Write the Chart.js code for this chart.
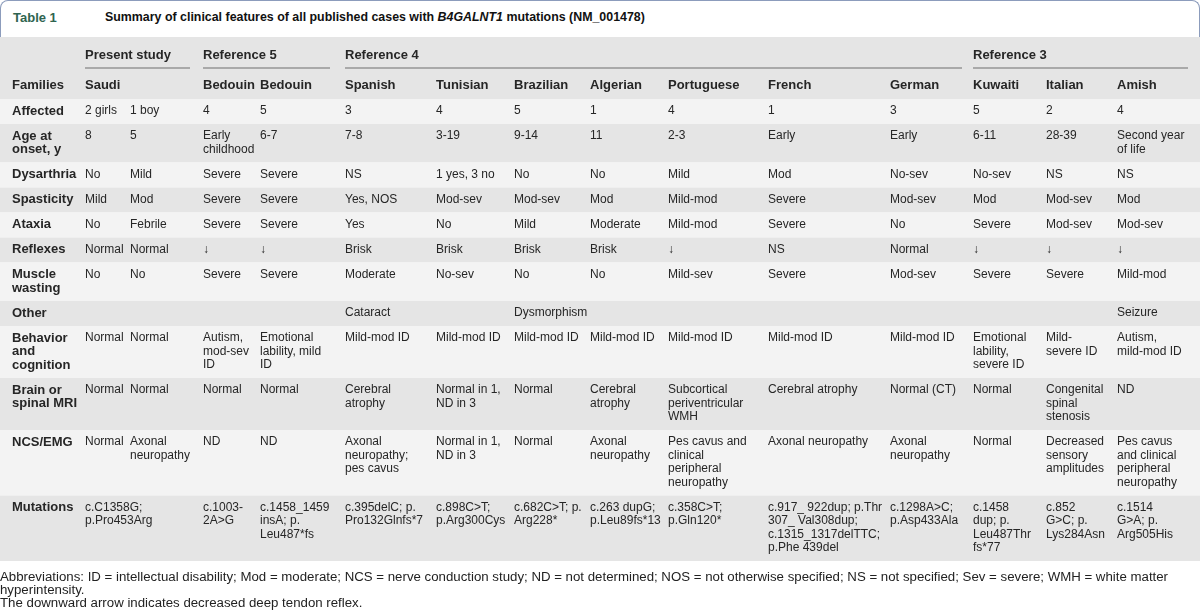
<!DOCTYPE html>
<html>
<head>
<meta charset="utf-8">
<script src="https://cdn.jsdelivr.net/npm/chart.js@4.4.1/dist/chart.umd.min.js"></script>
<style>
  html, body { margin: 0; padding: 0; background: #ffffff; }
  body { width: 1200px; height: 610px; overflow: hidden; font-family: "Liberation Sans", Arial, sans-serif; }
  #wrap { position: relative; width: 1200px; height: 610px; }
  #table { position: absolute; left: 0; top: 0; }
  #tab { position: absolute; left: 0; top: 0; width: 1200px; height: 37px; box-sizing: border-box;
         background: #ffffff; border: 1.5px solid #8c9cbc; border-bottom: none; border-radius: 8px 8px 0 0; }
  #tabno { position: absolute; left: 13px; top: 10px; font-size: 13px; font-weight: bold; color: #2f6450; }
  #title { position: absolute; left: 105px; top: 10px; font-size: 12.4px; font-weight: bold; color: #111; white-space: nowrap; }
  #notes { position: absolute; left: 0; top: 570px; font-size: 13.25px; line-height: 13px; color: #222; white-space: nowrap; }
</style>
</head>
<body>
<div id="wrap">
  <canvas id="table" width="1200" height="610"></canvas>
  <div id="tab"></div>
  <div id="tabno">Table 1</div>
  <div id="title">Summary of clinical features of all published cases with <i>B4GALNT1</i> mutations (NM_001478)</div>
  <div id="notes">Abbreviations: ID = intellectual disability; Mod = moderate; NCS = nerve conduction study; ND = not determined; NOS = not otherwise specified; NS = not specified; Sev = severe; WMH = white matter<br>hyperintensity.<br>The downward arrow indicates decreased deep tendon reflex.</div>
</div>
<script>
// ---------- DATA ----------
const groupLabels   = ['Present study', 'Reference 5', 'Reference 4', 'Reference 3'];
const groupFirstCol = [1, 3, 5, 12];
const groupLastCol  = [2, 4, 11, 14];

const families = ['Saudi', '', 'Bedouin', 'Bedouin', 'Spanish', 'Tunisian', 'Brazilian', 'Algerian',
                  'Portuguese', 'French', 'German', 'Kuwaiti', 'Italian', 'Amish'];

const rowLabels = ['Affected', 'Age at\nonset, y', 'Dysarthria', 'Spasticity', 'Ataxia', 'Reflexes',
                   'Muscle\nwasting', 'Other', 'Behavior\nand\ncognition', 'Brain or\nspinal MRI', 'NCS/EMG', 'Mutations'];

const affected   = ['2 girls', '1 boy', '4', '5', '3', '4', '5', '1', '4', '1', '3', '5', '2', '4'];
const ageOnset   = ['8', '5', 'Early\nchildhood', '6-7', '7-8', '3-19', '9-14', '11', '2-3', 'Early', 'Early',
                    '6-11', '28-39', 'Second year\nof life'];
const dysarthria = ['No', 'Mild', 'Severe', 'Severe', 'NS', '1 yes, 3 no', 'No', 'No', 'Mild', 'Mod',
                    'No-sev', 'No-sev', 'NS', 'NS'];
const spasticity = ['Mild', 'Mod', 'Severe', 'Severe', 'Yes, NOS', 'Mod-sev', 'Mod-sev', 'Mod', 'Mild-mod',
                    'Severe', 'Mod-sev', 'Mod', 'Mod-sev', 'Mod'];
const ataxia     = ['No', 'Febrile', 'Severe', 'Severe', 'Yes', 'No', 'Mild', 'Moderate', 'Mild-mod',
                    'Severe', 'No', 'Severe', 'Mod-sev', 'Mod-sev'];
const reflexes   = ['Normal', 'Normal', '\u2193', '\u2193', 'Brisk', 'Brisk', 'Brisk', 'Brisk', '\u2193', 'NS',
                    'Normal', '\u2193', '\u2193', '\u2193'];
const wasting    = ['No', 'No', 'Severe', 'Severe', 'Moderate', 'No-sev', 'No', 'No', 'Mild-sev', 'Severe',
                    'Mod-sev', 'Severe', 'Severe', 'Mild-mod'];
const other      = ['', '', '', '', 'Cataract', '', 'Dysmorphism', '', '', '', '', '', '', 'Seizure'];
const behavior   = ['Normal', 'Normal', 'Autism,\nmod-sev\nID', 'Emotional\nlability, mild\nID', 'Mild-mod ID',
                    'Mild-mod ID', 'Mild-mod ID', 'Mild-mod ID', 'Mild-mod ID', 'Mild-mod ID', 'Mild-mod ID',
                    'Emotional\nlability,\nsevere ID', 'Mild-\nsevere ID', 'Autism,\nmild-mod ID'];
const brainMri   = ['Normal', 'Normal', 'Normal', 'Normal', 'Cerebral\natrophy', 'Normal in 1,\nND in 3', 'Normal',
                    'Cerebral\natrophy', 'Subcortical\nperiventricular\nWMH', 'Cerebral atrophy', 'Normal (CT)',
                    'Normal', 'Congenital\nspinal\nstenosis', 'ND'];
const ncsEmg     = ['Normal', 'Axonal\nneuropathy', 'ND', 'ND', 'Axonal\nneuropathy;\npes cavus', 'Normal in 1,\nND in 3',
                    'Normal', 'Axonal\nneuropathy', 'Pes cavus and\nclinical\nperipheral\nneuropathy',
                    'Axonal neuropathy', 'Axonal\nneuropathy', 'Normal', 'Decreased\nsensory\namplitudes',
                    'Pes cavus\nand clinical\nperipheral\nneuropathy'];
const mutations  = ['c.C1358G;\np.Pro453Arg', '', 'c.1003-\n2A>G', 'c.1458_1459\ninsA; p.\nLeu487*fs',
                    'c.395delC; p.\nPro132Glnfs*7', 'c.898C>T;\np.Arg300Cys', 'c.682C>T; p.\nArg228*',
                    'c.263 dupG;\np.Leu89fs*13', 'c.358C>T;\np.Gln120*',
                    'c.917_ 922dup; p.Thr\n307_ Val308dup;\nc.1315_1317delTTC;\np.Phe 439del',
                    'c.1298A>C;\np.Asp433Ala', 'c.1458\ndup; p.\nLeu487Thr\nfs*77', 'c.852\nG>C; p.\nLys284Asn',
                    'c.1514\nG>A; p.\nArg505His'];

const rowValues = [affected, ageOnset, dysarthria, spasticity, ataxia, reflexes, wasting, other,
                   behavior, brainMri, ncsEmg, mutations];

// ---------- LAYOUT (table units = page pixels) ----------
const colX      = [12, 85, 130, 203, 260, 345, 436, 514, 590, 668, 768, 890, 973, 1046, 1117];
const groupEndX = [190, 330, 962, 1188];
const tableWidth = 1200;
const headTop = 36, headBottom = 99, groupY = 55, ruleY = 68, famY = 85;
const rowBase = 25, lineH = 13.5, firstLine = 12;
const lightBg = '#f3f3f3', darkBg = '#e5e5e5', ruleColor = '#a9a9a9', inkColor = '#262626';
const labelFont = 'bold 13px "Liberation Sans", Arial, sans-serif';
const cellFont  = '12px "Liberation Sans", Arial, sans-serif';

const tablePlugin = {
  id: 'tableCells',
  beforeDatasetsDraw(chart) {
    const { ctx, scales: { x, y } } = chart;
    const px = v => x.getPixelForValue(v);
    const py = v => y.getPixelForValue(v);
    const band = (top, bottom, color) => {
      ctx.fillStyle = color;
      ctx.fillRect(px(0), py(top), px(tableWidth) - px(0), py(bottom) - py(top));
    };
    const text = (str, col, top, font) => {
      ctx.font = font;
      ctx.fillStyle = inkColor;
      ctx.textBaseline = 'middle';
      ctx.textAlign = 'left';
      str.split('\n').forEach((ln, k) => ctx.fillText(ln, px(colX[col]), py(top + k * lineH)));
    };
    ctx.save();
    // header
    band(headTop, headBottom, darkBg);
    groupLabels.forEach((g, i) => {
      text(g, groupFirstCol[i], groupY, labelFont);
      ctx.strokeStyle = ruleColor;
      ctx.lineWidth = 2;
      ctx.beginPath();
      ctx.moveTo(px(colX[groupFirstCol[i]]), py(ruleY));
      ctx.lineTo(px(groupEndX[i]), py(ruleY));
      ctx.stroke();
    });
    text('Families', 0, famY, labelFont);
    families.forEach((f, i) => { if (f) text(f, i + 1, famY, labelFont); });
    // body
    let top = headBottom;
    rowLabels.forEach((lab, r) => {
      const cells = rowValues[r];
      const nLines = Math.max(lab.split('\n').length, ...cells.map(c => c.split('\n').length));
      const h = rowBase + (nLines - 1) * lineH;
      band(top, top + h, r % 2 === 0 ? lightBg : darkBg);
      text(lab, 0, top + firstLine, labelFont);
      cells.forEach((c, i) => { if (c) text(c, i + 1, top + firstLine, cellFont); });
      top += h;
    });
    ctx.restore();
  }
};

new Chart(document.getElementById('table'), {
  type: 'scatter',
  data: { datasets: [{ data: [], pointRadius: 0 }] },
  options: {
    responsive: false,
    animation: false,
    events: [],
    layout: { padding: 0 },
    plugins: { legend: { display: false }, tooltip: { enabled: false } },
    scales: {
      x: { type: 'linear', display: false, min: 0, max: 1200 },
      y: { type: 'linear', display: false, min: 0, max: 610, reverse: true }
    }
  },
  plugins: [tablePlugin]
});
</script>
</body>
</html>
